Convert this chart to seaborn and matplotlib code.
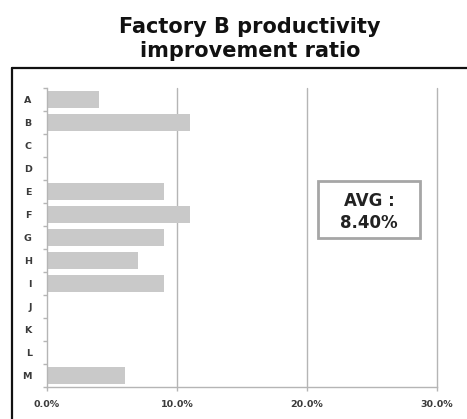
import matplotlib
matplotlib.use("Agg")
import matplotlib.pyplot as plt
import seaborn as sns
import pandas as pd
from matplotlib.lines import Line2D
from matplotlib.patches import Rectangle
from matplotlib.ticker import FuncFormatter, FixedLocator

# Productivity improvement by line (percent); lines without a value are left empty
lines = ["A", "B", "C", "D", "E", "F", "G", "H", "I", "J", "K", "L", "M"]
ratios = [4.0, 11.0, 0.0, 0.0, 9.0, 11.0, 9.0, 7.0, 9.0, 0.0, 0.0, 0.0, 6.0]
x_ticks = [0, 10, 20, 30]
avg_value = 8.40
title = "Factory B productivity\nimprovement ratio"

sns.set_theme(style="white")
plt.rcParams["font.family"] = ["DejaVu Sans"]

df = pd.DataFrame({"line": lines, "ratio": ratios})

fig = plt.figure(figsize=(4.67, 4.19), dpi=100)
ax = fig.add_axes([47 / 467, 1 - 387 / 419, 390 / 467, 299 / 419])

sns.barplot(data=df, y="line", x="ratio", orient="h", order=lines,
            color="#c9c9c9", saturation=1, width=0.74, linewidth=0, ax=ax)

ax.set_xlim(0, 30)
ax.set_ylim(len(lines) - 0.5, -0.5)
ax.set_xticks(x_ticks)
ax.xaxis.set_major_formatter(FuncFormatter(lambda v, p: f"{v:.1f}%"))
ax.set_xlabel("")
ax.set_ylabel("")

# vertical gridlines
for v in x_ticks[1:]:
    ax.axvline(v, color="#b5b5b5", lw=1.0, zorder=0, clip_on=False)

for s in ["top", "right"]:
    ax.spines[s].set_visible(False)
for s in ["left", "bottom"]:
    ax.spines[s].set_color("#b5b5b5")
    ax.spines[s].set_linewidth(1.0)

# category boundary ticks on the y axis
ax.yaxis.set_minor_locator(FixedLocator([i - 0.5 for i in range(len(lines) + 1)]))
ax.tick_params(axis="y", which="minor", length=3, color="#b5b5b5", width=1, left=True)
ax.tick_params(axis="y", which="major", length=0, pad=11, labelsize=6.8)
ax.tick_params(axis="x", which="major", length=3, color="#b5b5b5", width=1,
               bottom=True, pad=6, labelsize=6.8)
for lab in ax.get_xticklabels() + ax.get_yticklabels():
    lab.set_fontweight("bold")
    lab.set_color("#3a3a3a")

# average box
box = Rectangle((271 / 390, (387 - 238) / 299), 102 / 390, 57 / 299,
                transform=ax.transAxes, fill=False, edgecolor="#a6a6a6", lw=2,
                zorder=5)
ax.add_patch(box)
ax.text((271 + 51) / 390, (387 - 212) / 299, f"AVG :\n{avg_value:.2f}%",
        transform=ax.transAxes, ha="center", va="center", fontsize=12,
        fontweight="bold", color="#222222", linespacing=1.3, zorder=6)

# outer frame (top and left edges)
fig.add_artist(Line2D([12 / 467, 1.0], [1 - 68 / 419, 1 - 68 / 419],
                      transform=fig.transFigure, color="#111111", lw=1.6))
fig.add_artist(Line2D([12 / 467, 12 / 467], [1 - 68 / 419, 0.0],
                      transform=fig.transFigure, color="#111111", lw=1.6))

fig.text(0.535, 1 - 39 / 419, title, ha="center", va="center", fontsize=15,
         fontweight="bold", color="#111111", linespacing=1.25)

fig.savefig("out.png", dpi=100)
